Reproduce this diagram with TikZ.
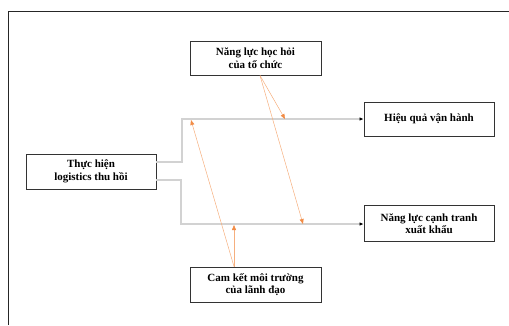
\documentclass[tikz,border=0pt]{standalone}
\usepackage{fontspec}
\setmainfont{Liberation Serif}
\usetikzlibrary{arrows.meta}
\definecolor{conn}{RGB}{210,210,210}
\definecolor{infl}{RGB}{242,140,70}
\begin{document}
\begin{tikzpicture}[x=1pt,y=-1pt,
  box/.style={draw=black!80,line width=0.9pt,fill=white,align=center,inner sep=0pt,
    font=\bfseries\fontsize{11}{12.5}\selectfont},
  mainline/.style={draw=conn,line width=1.1pt,-{Latex[length=4pt,width=3.5pt,black]}},
  modline/.style={draw=infl!70,line width=0.5pt,-{Triangle[length=5pt,width=4pt,infl]}}]
\useasboundingbox (0,0) rectangle (509,325);
\draw[black!85,line width=0.9pt] (8,325) -- (8,11) -- (509,11);
\node[box,minimum width=131pt,minimum height=34pt] (learn) at (255.5,58) {Năng lực học hỏi\\của tổ chức};
\node[box,minimum width=130pt,minimum height=34pt] (perf) at (429,119) {Hiệu quả vận hành};
\node[box,minimum width=130pt,minimum height=35pt] (rl) at (91,171.5) {Thực hiện\\logistics thu hồi};
\node[box,minimum width=130pt,minimum height=36pt] (comp) at (429,223.5) {Năng lực cạnh tranh\\xuất khẩu};
\node[box,minimum width=131pt,minimum height=35pt] (lead) at (255.5,284.5) {Cam kết môi trường\\của lãnh đạo};
\coordinate (ls) at (260,75.5);
\coordinate (cs) at (234,266.5);
\coordinate (t1) at (285,119);
\coordinate (t2) at (303,224);
\coordinate (t3) at (191,120);
\coordinate (t4) at (234,225);
\draw[mainline] (rl.east |- 0,162) -| (182,119) -- (perf.west);
\draw[mainline] (rl.east |- 0,180) -| (181,224) -- (comp.west |- 0,224);
\draw[modline] (ls) -- (t1);
\draw[modline] (ls) -- (t2);
\draw[modline] (cs) -- (t3);
\draw[modline] (cs) -- (t4);
\end{tikzpicture}
\end{document}
